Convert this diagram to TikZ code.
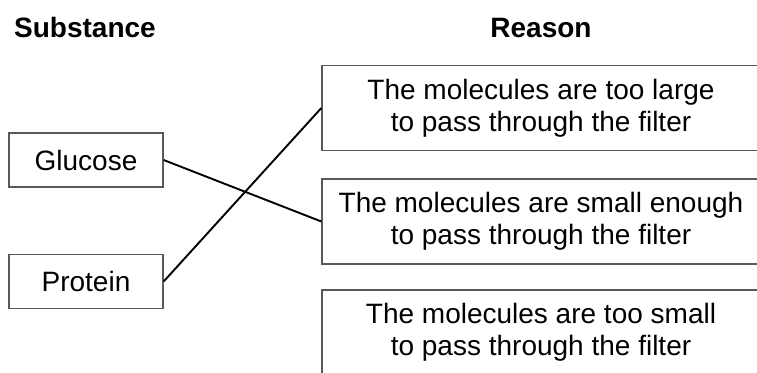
\documentclass[tikz,border=0pt]{standalone}
\usepackage{fontspec}
\setmainfont{Liberation Sans}
\begin{document}
\begin{tikzpicture}[x=1pt,y=-1pt,
  every node/.style={font=\fontsize{28}{32}\selectfont, inner sep=0pt},
  head/.style={font=\fontsize{28}{32}\selectfont\bfseries, anchor=base},
  subbox/.style={draw=black!65, line width=1.3pt, minimum width=154pt, minimum height=54pt},
  reasonbox/.style={draw=black!65, line width=1.3pt, minimum width=438pt, minimum height=85pt, align=center},
  link/.style={draw=black, line width=1.9pt}]
\useasboundingbox (0,0) rectangle (757,372);
\clip (0,0) rectangle (757,372);
\node[head] (hs) at (85,37) {Substance};
\node[head] (hr) at (541,37) {Reason};
\node[subbox] (glu) at (86,160) {Glucose};
\node[subbox] (pro) at (86,281.5) {Protein};
\node[reasonbox] (r1) at (541,108) {The molecules are too large\\to pass through the filter};
\node[reasonbox] (r2) at (541,221.5) {The molecules are small enough\\to pass through the filter};
\node[reasonbox] (r3) at (541,332.5) {The molecules are too small\\to pass through the filter};
\draw[link] (glu.east) -- (r2.west);
\draw[link] (pro.east) -- (r1.west);
\end{tikzpicture}
\end{document}
